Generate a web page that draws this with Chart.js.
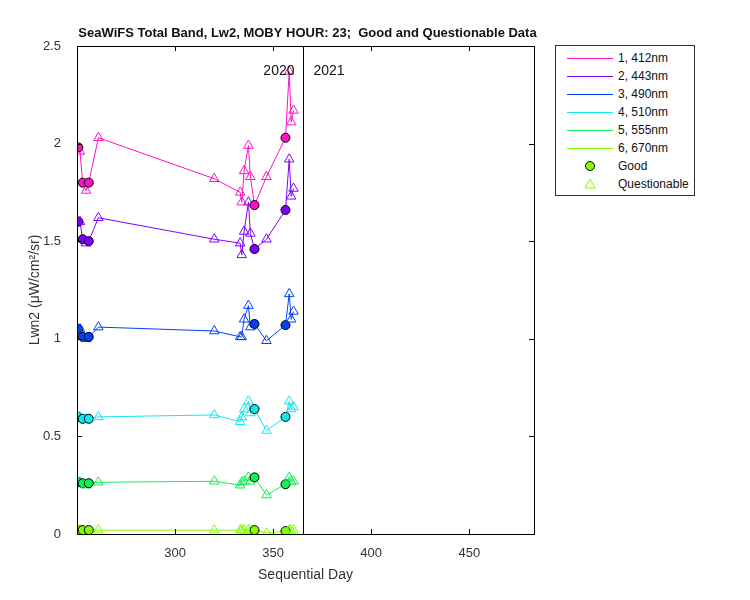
<!DOCTYPE html>
<html><head><meta charset="utf-8">
<script src="https://cdn.jsdelivr.net/npm/chart.js@4"></script>
<style>
body{margin:0;background:#fff;font-family:Arial,"Liberation Sans",sans-serif}
#wrap{position:relative;width:750px;height:600px}
#legend{position:absolute;left:555px;top:45px;width:138px;height:149px;border:1px solid #333;background:#fff;font-size:12px;color:#111}
.row{position:absolute;left:0;height:18px;line-height:18px;width:138px}
.row .ln{position:absolute;left:11px;top:9px;width:46px;height:0;border-top:1px solid}
.row span{position:absolute;left:62px}
</style></head>
<body><div id="wrap"><canvas id="c" width="750" height="600"></canvas><div id="legend"></div></div>
<script>
// --- DADOS ---
const days = [250.7, 251.5, 252.9, 254.6, 256, 260.9, 320, 333.2, 334, 335.2, 337.4, 338.4, 340.5, 346.6, 356.3, 358.2, 359.2, 360.4];
const quality = ['G','Q','G','Q','G','Q','Q','Q','Q','Q','Q','Q','G','Q','G','Q','Q','Q'];
const band412 = [1.98, 1.96, 1.80, 1.76, 1.80, 2.03, 1.82, 1.75, 1.70, 1.86, 1.99, 1.83, 1.685, 1.83, 2.03, 2.37, 2.11, 2.17];
const band443 = [1.60, 1.60, 1.51, 1.49, 1.50, 1.62, 1.51, 1.49, 1.43, 1.55, 1.70, 1.54, 1.46, 1.51, 1.66, 1.92, 1.73, 1.77];
const band490 = [1.05, 1.05, 1.01, 1.00, 1.01, 1.06, 1.04, 1.01, 1.01, 1.10, 1.17, 1.06, 1.076, 0.99, 1.07, 1.23, 1.10, 1.14];
const band510 = [0.60, 0.60, 0.59, 0.59, 0.59, 0.60, 0.61, 0.575, 0.60, 0.64, 0.68, 0.62, 0.64, 0.53, 0.60, 0.68, 0.64, 0.65];
const band555 = [0.265, 0.265, 0.26, 0.25, 0.26, 0.265, 0.27, 0.25, 0.265, 0.27, 0.29, 0.27, 0.29, 0.20, 0.255, 0.29, 0.27, 0.27];
const band670 = [0.02, 0.02, 0.02, 0.015, 0.02, 0.02, 0.02, 0.02, 0.02, 0.02, 0.02, 0.02, 0.02, 0.005, 0.015, 0.02, 0.02, 0.02];
const bandNames = ['1, 412nm', '2, 443nm', '3, 490nm', '4, 510nm', '5, 555nm', '6, 670nm'];
const bandColors = ['#ff10c8', '#8000ff', '#0040ff', '#10e8f0', '#10f050', '#80ff00'];
const yTicks = [0, 0.5, 1, 1.5, 2, 2.5];
const xTicks = [300, 350, 400, 450];
const yearMark = 365.2;

const bands = [band412, band443, band490, band510, band555, band670];

const datasets = bands.map((vals, i) => ({
    label: bandNames[i],
    data: days.map((d, j) => ({ x: d, y: vals[j] })),
    borderColor: bandColors[i],
    borderWidth: 1,
    pointStyle: ctx => quality[ctx.dataIndex] === 'G' ? 'circle' : 'triangle',
    pointRadius: ctx => quality[ctx.dataIndex] === 'G' ? 4.5 : 5.5,
    pointBackgroundColor: ctx => quality[ctx.dataIndex] === 'G' ? bandColors[i] : 'rgba(255,255,255,0)',
    pointBorderColor: ctx => quality[ctx.dataIndex] === 'G' ? '#000' : bandColors[i],
    pointBorderWidth: 1
}));

// Legenda
const legendEl = document.getElementById('legend');
bandNames.forEach((n, i) => {
    legendEl.innerHTML += `<div class="row" style="top:${3 + i * 18}px"><div class="ln" style="border-color:${bandColors[i]}"></div><span>${n}</span></div>`;
});
legendEl.innerHTML += `<div class="row" style="top:111px"><svg style="position:absolute;left:28px;top:3px" width="12" height="12"><circle cx="6" cy="6" r="4.5" fill="#80ff00" stroke="#000"/></svg><span>Good</span></div>`;
legendEl.innerHTML += `<div class="row" style="top:129px"><svg style="position:absolute;left:28px;top:3px" width="12" height="12"><polygon points="6,1 11,10 1,10" fill="none" stroke="#80ff00"/></svg><span>Questionable</span></div>`;

const extras = {
    id: 'extras',
    afterDraw(chart) {
        const { ctx, chartArea: a, scales: { x, y } } = chart;
        ctx.save();
        ctx.strokeStyle = '#000'; ctx.lineWidth = 1;
        ctx.strokeRect(a.left + 0.5, a.top + 0.5, a.right - a.left, a.bottom - a.top);
        // ticks para dentro
        xTicks.forEach(t => { const p = Math.round(x.getPixelForValue(t)) + 0.5;
            ctx.beginPath(); ctx.moveTo(p, a.bottom); ctx.lineTo(p, a.bottom - 5); ctx.moveTo(p, a.top); ctx.lineTo(p, a.top + 5); ctx.stroke(); });
        yTicks.forEach(t => { const p = Math.round(y.getPixelForValue(t)) + 0.5;
            ctx.beginPath(); ctx.moveTo(a.left, p); ctx.lineTo(a.left + 5, p); ctx.moveTo(a.right, p); ctx.lineTo(a.right - 5, p); ctx.stroke(); });
        const vx = Math.round(x.getPixelForValue(yearMark)) + 0.5;
        ctx.beginPath(); ctx.moveTo(vx, a.top); ctx.lineTo(vx, a.bottom); ctx.stroke();
        ctx.fillStyle = '#111'; ctx.font = '14px Arial, "Liberation Sans"'; ctx.textBaseline = 'middle';
        ctx.textAlign = 'right'; ctx.fillText('2020', vx - 9, 71);
        ctx.textAlign = 'left'; ctx.fillText('2021', vx + 10, 71);
        ctx.font = 'bold 13px Arial, "Liberation Sans"'; ctx.textAlign = 'center';
        ctx.fillText('SeaWiFS Total Band, Lw2, MOBY HOUR: 23;  Good and Questionable Data', (a.left + a.right) / 2 + 2, 33);
        ctx.restore();
    }
};

new Chart(document.getElementById('c'), {
    type: 'line',
    data: { datasets },
    plugins: [extras],
    options: {
        responsive: false, animation: false,
        layout: { padding: { top: 46, right: 216, left: 27, bottom: 16 } },
        plugins: { legend: { display: false }, tooltip: { enabled: false } },
        scales: {
            x: { type: 'linear', min: 250, max: 483,
                afterBuildTicks: s => { s.ticks = xTicks.map(v => ({ value: v })); },
                afterFit: s => { s.height = 50; },
                grid: { display: false }, border: { display: false },
                ticks: { color: '#333', font: { size: 13, family: 'Arial' }, padding: 4, callback: v => String(v) },
                title: { display: true, text: 'Sequential Day', color: '#333', font: { size: 14, family: 'Arial' }, padding: 0 } },
            y: { min: 0, max: 2.5,
                afterBuildTicks: s => { s.ticks = yTicks.map(v => ({ value: v })); },
                afterFit: s => { s.width = 50; },
                grid: { display: false }, border: { display: false },
                ticks: { color: '#333', font: { size: 13, family: 'Arial' }, padding: 8, callback: v => String(v) },
                title: { display: true, text: 'Lwn2 (μW/cm²/sr)', color: '#333', font: { size: 14, family: 'Arial' }, padding: 0 } }
        }
    }
});
</script></body></html>
